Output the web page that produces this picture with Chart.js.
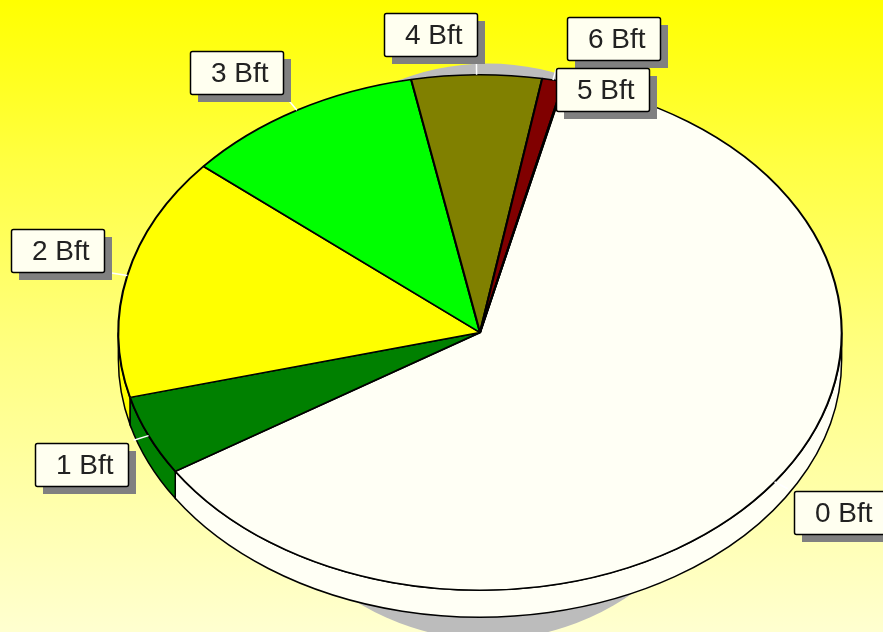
<!DOCTYPE html>
<html>
<head>
<meta charset="utf-8">
<title>Bft</title>
<script src="https://cdn.jsdelivr.net/npm/chart.js@4"></script>
<style>
    html, body { margin: 0; padding: 0; width: 883px; height: 632px; overflow: hidden; }
    body { background: linear-gradient(180deg, #ffff00 0%, #ffff40 25%, #ffff80 55%, #ffffd0 100%); }
    canvas { display: block; }
</style>
</head>
<body>
<canvas id="wind-chart" width="883" height="632"></canvas>
<script>
const categories = ['0 Bft', '1 Bft', '2 Bft', '3 Bft', '4 Bft', '5 Bft', '6 Bft'];
const shares = [62.2, 5.0, 15.2, 10.8, 5.8, 0.97, 0.03];
const sliceColors = ['#fffff5', '#008000', '#ffff00', '#00ff00', '#808000', '#800000', '#ff0000'];

// top-left corner of each label box
const labelLeft = [794, 35, 11, 190, 384, 556, 567];
const labelTop = [491, 443, 229, 51, 13, 68, 17];

const stretchX = 362 / 258; // the pie is drawn as a tilted ellipse
const wallDepth = 27;

function drawWalls(ctx, arcs) {
    arcs.forEach(arc => {
        const rx = arc.outerRadius * stretchX;
        const ry = arc.outerRadius;
        for (let k = -1; k <= 1; k++) {
            const lo = Math.max(arc.startAngle + k * 2 * Math.PI, 0);
            const hi = Math.min(arc.endAngle + k * 2 * Math.PI, Math.PI);
            if (hi <= lo) continue;
            ctx.beginPath();
            ctx.ellipse(arc.x, arc.y, rx, ry, 0, lo, hi);
            ctx.ellipse(arc.x, arc.y + wallDepth, rx, ry, 0, hi, lo, true);
            ctx.closePath();
            ctx.fillStyle = arc.options.backgroundColor;
            ctx.fill();
            ctx.strokeStyle = '#000000';
            ctx.lineWidth = 1.5;
            ctx.stroke();
        }
    });
}

function drawLabel(ctx, text, left, top) {
    ctx.fillStyle = '#808080';
    ctx.fillRect(left + 8, top + 8, 93, 43);
    ctx.beginPath();
    ctx.roundRect(left + 0.5, top + 0.5, 93, 43, 2);
    ctx.fillStyle = '#fffff0';
    ctx.fill();
    ctx.strokeStyle = '#000000';
    ctx.lineWidth = 1.5;
    ctx.stroke();
    ctx.fillStyle = '#222222';
    ctx.font = '28px "Liberation Sans"';
    ctx.textAlign = 'left';
    ctx.textBaseline = 'middle';
    ctx.fillText(text, left + 21, top + 23);
}

const tiltedPie = {
    id: 'tiltedPie',
    beforeDatasetsDraw(chart) {
        const ctx = chart.ctx;
        const arcs = chart.getDatasetMeta(0).data;
        const cx = arcs[0].x;
        const cy = arcs[0].y;

        // grey drop shadow behind the pie
        ctx.beginPath();
        ctx.ellipse(cx + 8, cy + 19, 266, 288, 0, 0, 2 * Math.PI);
        ctx.fillStyle = '#bcbcbc';
        ctx.fill();

        drawWalls(ctx, arcs);

        ctx.save();
        ctx.translate(cx, cy);
        ctx.scale(stretchX, 1);
        ctx.translate(-cx, -cy);
    },
    afterDatasetsDraw(chart) {
        const ctx = chart.ctx;
        ctx.restore();

        const arcs = chart.getDatasetMeta(0).data;

        // leader lines (not for the last slice, its label sits on its own)
        arcs.slice(0, 6).forEach(arc => {
            const mid = (arc.startAngle + arc.endAngle) / 2;
            const rx = arc.outerRadius * stretchX;
            const ry = arc.outerRadius;
            ctx.beginPath();
            ctx.moveTo(arc.x + rx * Math.cos(mid), arc.y + ry * Math.sin(mid));
            ctx.lineTo(arc.x + 1.045 * rx * Math.cos(mid), arc.y + 1.045 * ry * Math.sin(mid));
            ctx.strokeStyle = '#ffffff';
            ctx.lineWidth = 1.5;
            ctx.stroke();
        });

        // 6 Bft goes under 5 Bft, so walk the labels backwards
        for (let i = categories.length - 1; i >= 0; i--) {
            drawLabel(ctx, categories[i], labelLeft[i], labelTop[i]);
        }
    }
};

new Chart(document.getElementById('wind-chart').getContext('2d'), {
    type: 'pie',
    data: {
        labels: categories,
        datasets: [{
            data: shares,
            backgroundColor: sliceColors,
            borderColor: '#000000',
            borderWidth: 1.5,
            clip: false
        }]
    },
    options: {
        responsive: false,
        devicePixelRatio: 1,
        animation: false,
        rotation: 13.5,
        layout: { padding: { top: 74, bottom: 41, left: 77, right: 0 } },
        plugins: {
            legend: { display: false },
            tooltip: { enabled: false }
        }
    },
    plugins: [tiltedPie]
});
</script>
</body>
</html>
